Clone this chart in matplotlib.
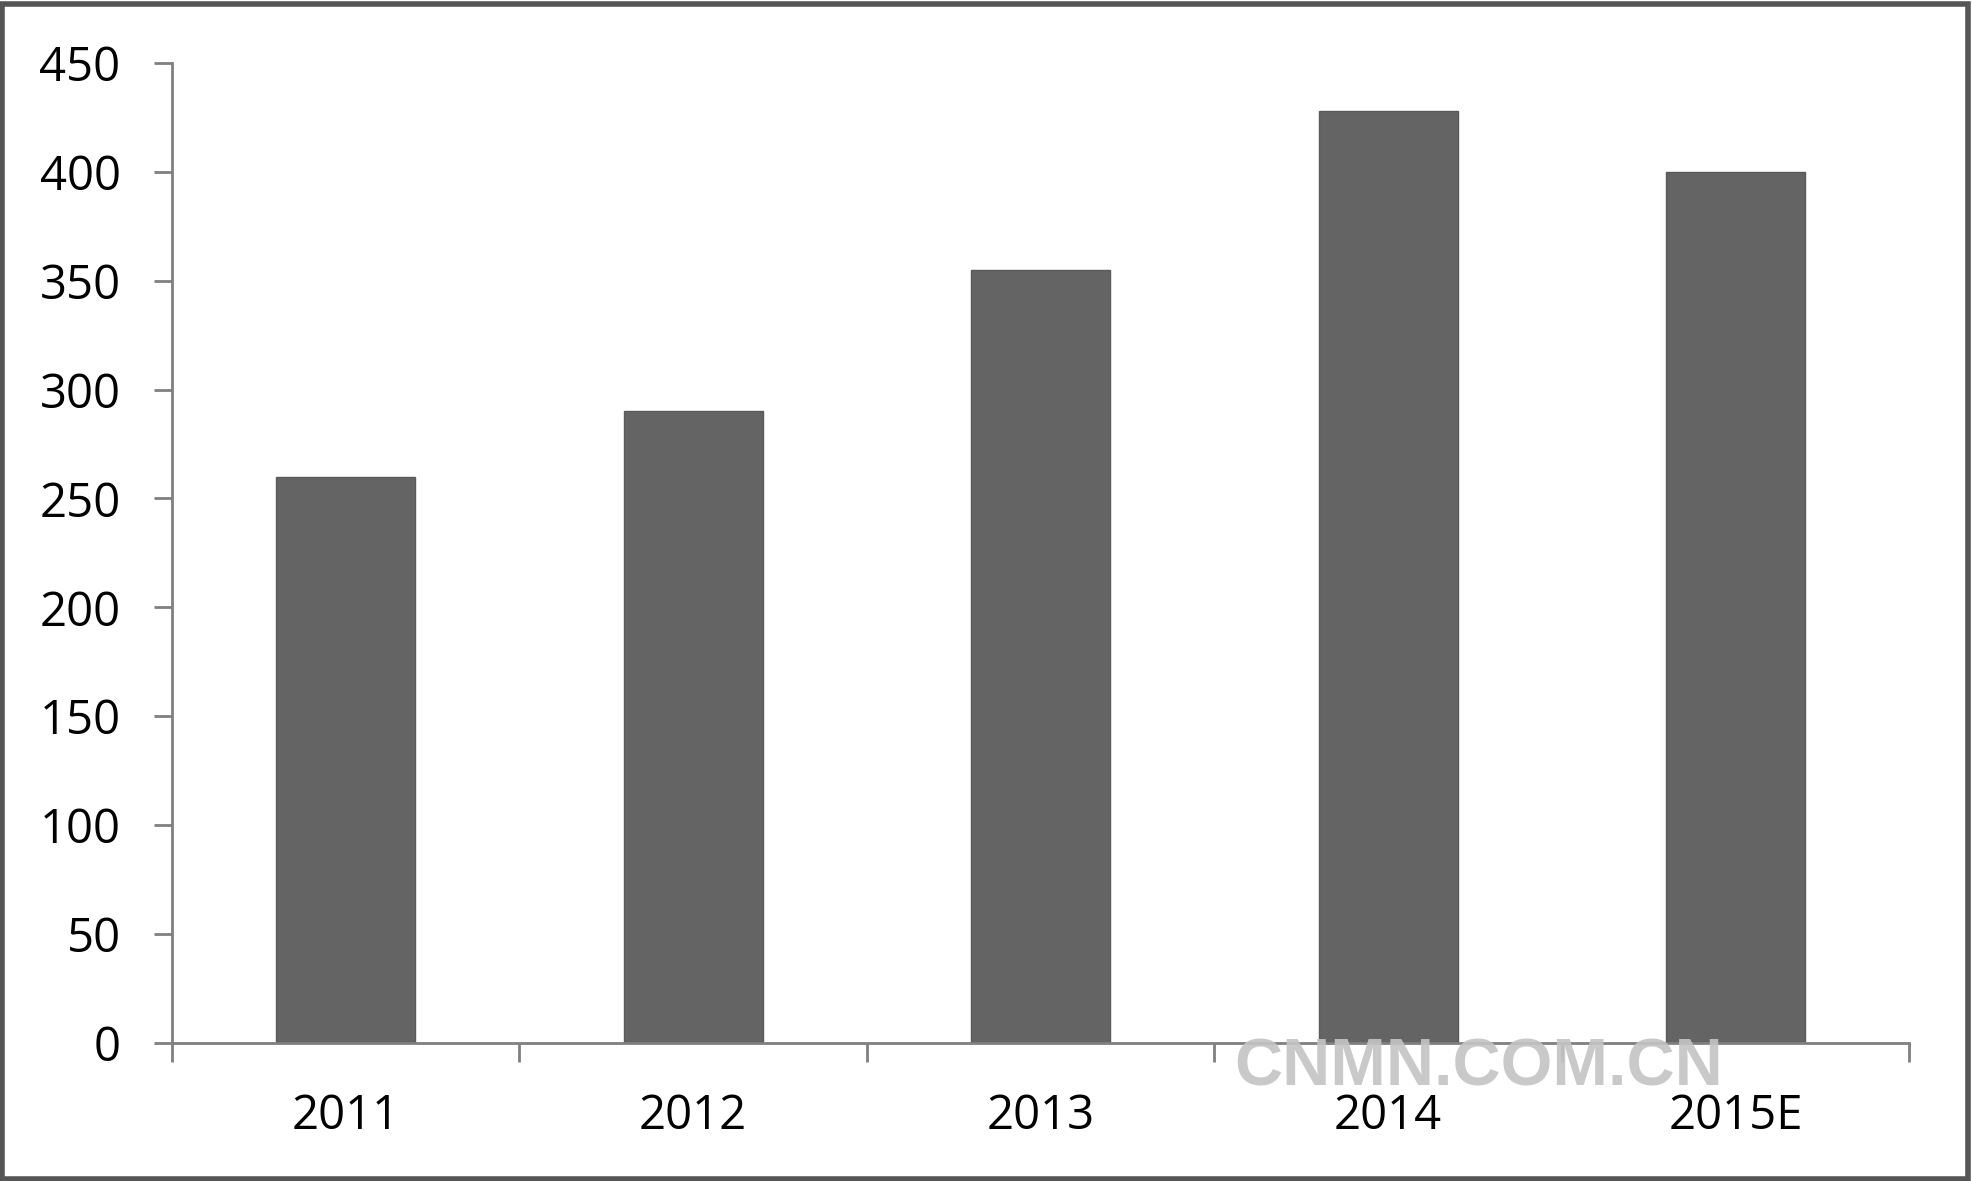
import matplotlib
matplotlib.use("Agg")
import matplotlib.pyplot as plt
from matplotlib.patches import Rectangle
import numpy as np

# data
years = ["2011", "2012", "2013", "2014", "2015E"]
values = [260, 290, 355, 428, 400]
yticks = [0, 50, 100, 150, 200, 250, 300, 350, 400, 450]

plt.rcParams['font.family'] = ['Open Sans', 'DejaVu Sans']

fig = plt.figure(figsize=(19.72, 11.81), dpi=100)
ax = fig.add_axes([0.0872, 0.117, 0.881, 0.8297])

x = np.arange(len(years))
ax.bar(x, values, width=0.4, color="#646464", edgecolor="#5a5a5a", linewidth=1, zorder=2)

ax.set_xlim(-0.5, len(years) - 0.5)
ax.set_ylim(0, 450)
ax.set_yticks(yticks)
ax.set_yticklabels([str(v) for v in yticks])
ax.set_xticks(x)
ax.set_xticklabels(years)
ax.set_xticks(np.arange(-0.5, len(years)), minor=True)

axis_col = "#808080"
for side in ["top", "right"]:
    ax.spines[side].set_visible(False)
for side in ["left", "bottom"]:
    ax.spines[side].set_color(axis_col)
    ax.spines[side].set_linewidth(2)

ax.tick_params(axis="y", direction="out", length=13, width=2, color=axis_col,
               labelsize=34, pad=24, labelcolor="black")
ax.tick_params(axis="x", which="major", length=0, labelsize=34, pad=36, labelcolor="black")
ax.tick_params(axis="x", which="minor", direction="out", length=14, width=2, color=axis_col)

# watermark
fig.text(0.75, 0.0955, "CNMN.COM.CN", fontsize=48, fontweight="bold",
         family="Liberation Sans", color="#c4c4c4", alpha=0.9,
         ha="center", va="center", zorder=10)

# outer frame
fig.patches.append(Rectangle((0.001, 0.002), 0.997, 0.995, transform=fig.transFigure,
                             fill=False, edgecolor="#555555", linewidth=4))

fig.savefig("out.png", dpi=100)
